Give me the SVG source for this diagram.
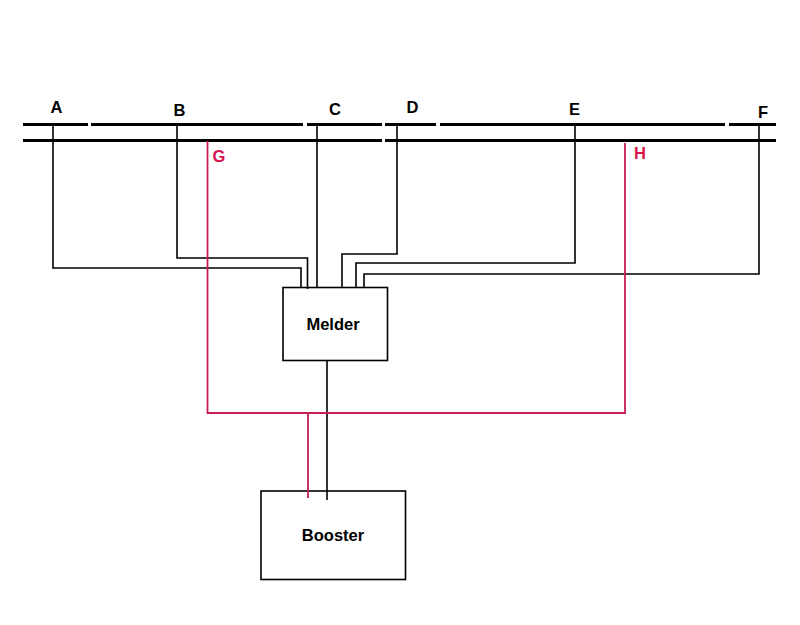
<svg xmlns="http://www.w3.org/2000/svg" width="800" height="625" viewBox="0 0 800 625">
<style>
text{font-family:"Liberation Sans",Arial,sans-serif;font-weight:bold;font-size:16.5px;fill:#000;text-anchor:middle}
.track{stroke:#000;stroke-width:3;fill:none}
.wire{stroke:#000;stroke-width:1.6;fill:none}
.red{stroke:#c81e50;stroke-width:1.8;fill:none}
.box{stroke:#000;stroke-width:1.6;fill:#fff}
text.r{fill:#d8124c}
</style>
<rect width="800" height="625" fill="#fff"/>
<g id="node-melder"><rect class="box" x="283" y="287.500" width="104.500" height="73"/><text x="333" y="330">Melder</text></g>
<g id="node-booster"><rect class="box" x="261" y="491" width="144.500" height="88.500"/><text x="333" y="541">Booster</text></g>
<g id="connectors">
<path class="track" d="M23 124.500H88M91 124.500H303M307 124.500H382M385 124.500H436M440 124.500H725M729 124.500H776M23 140.500H382M385 140.500H776"/>
<path class="wire" d="M53 124V268H301V287M177 124V258H307.500V289M317 124V287M397 124V254H342V287M575 124V263H356V287M759 124V274H364V287M327 360V500"/>
<path class="red" d="M207.500 141V413H625V143M308 413V498"/>
</g>
<g id="labels">
<text x="56.500" y="113">A</text><text x="179.500" y="116">B</text><text x="335" y="115">C</text><text x="412.500" y="113">D</text><text x="574.500" y="115">E</text><text x="763" y="118">F</text>
<text class="r" x="219" y="162">G</text><text class="r" x="640" y="159">H</text>
</g>
</svg>
